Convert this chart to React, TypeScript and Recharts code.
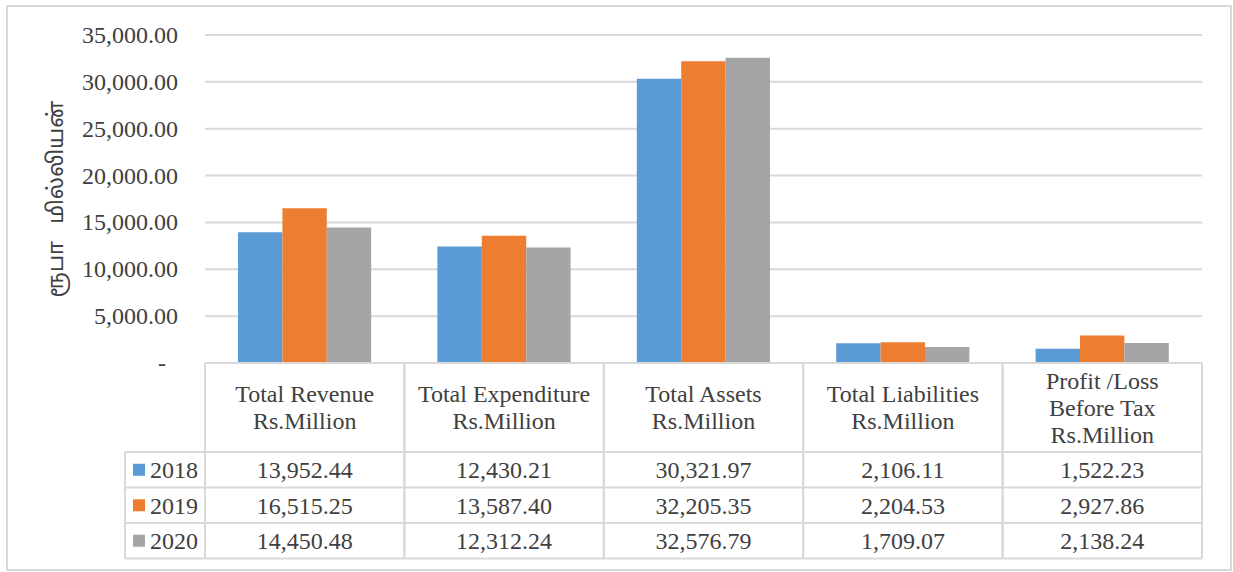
import { Bar, BarChart, CartesianGrid, XAxis, YAxis } from 'recharts';

const categories = ['Total Revenue', 'Total Expenditure', 'Total Assets', 'Total Liabilities', 'Profit /Loss'];
const headerLines = [
  ['Total Revenue', 'Rs.Million'],
  ['Total Expenditure', 'Rs.Million'],
  ['Total Assets', 'Rs.Million'],
  ['Total Liabilities', 'Rs.Million'],
  ['Profit /Loss', 'Before Tax', 'Rs.Million'],
];
const years = ['2018', '2019', '2020'];
const values2018 = [13952.44, 12430.21, 30321.97, 2106.11, 1522.23];
const values2019 = [16515.25, 13587.4, 32205.35, 2204.53, 2927.86];
const values2020 = [14450.48, 12312.24, 32576.79, 1709.07, 2138.24];
const yTicks = [0, 5000, 10000, 15000, 20000, 25000, 30000, 35000];
const yLabel = 'ரூபா   மில்லியன்';

const colors = ['#5B9BD5', '#ED7D31', '#A5A5A5'];
const seriesValues = [values2018, values2019, values2020];

const data = categories.map((name, i) => ({
  name,
  y2018: values2018[i],
  y2019: values2019[i],
  y2020: values2020[i],
}));

const W = 1233;
const H = 572;
const PLOT_LEFT = 205;
const PLOT_RIGHT = 1202;
const PLOT_TOP = 35;
const PLOT_BOTTOM = 363;
const COL_W = (PLOT_RIGHT - PLOT_LEFT) / categories.length;
const HEADER_BOTTOM = 452;
const ROW_H = 35.5;
const LEGEND_LEFT = 125;
const LINE = '#D9D9D9';
const TEXT = '#404040';
const FONT = '"Liberation Serif", "Times New Roman", serif';
const FS = 24;

const fmt = (v: number) =>
  v.toLocaleString('en-US', { minimumFractionDigits: 2, maximumFractionDigits: 2 });

const TableColumn = (props: any) => {
  const { x, index } = props;
  const left = x - COL_W / 2;
  const right = x + COL_W / 2;
  const lines = headerLines[index] || [];
  const rowYs = years.map((_, r) => HEADER_BOTTOM + r * ROW_H);
  const tableBottom = HEADER_BOTTOM + years.length * ROW_H;
  const hLines = [PLOT_BOTTOM, ...rowYs, tableBottom];
  return (
    <g>
      {hLines.map((y, k) => (
        <line key={'h' + k} x1={left} x2={right} y1={y} y2={y} stroke={LINE} strokeWidth={2} />
      ))}
      <line x1={left} x2={left} y1={PLOT_BOTTOM} y2={tableBottom} stroke={LINE} strokeWidth={2} />
      <line x1={right} x2={right} y1={PLOT_BOTTOM} y2={tableBottom} stroke={LINE} strokeWidth={2} />
      {lines.map((t, k) => (
        <text
          key={'t' + k}
          x={x}
          y={415.5 + (k - (lines.length - 1) / 2) * 27}
          textAnchor="middle"
          fontFamily={FONT}
          fontSize={FS}
          fill={TEXT}
        >
          {t}
        </text>
      ))}
      {seriesValues.map((vals, r) => (
        <text
          key={'v' + r}
          x={x}
          y={rowYs[r] + ROW_H / 2 + 8.5}
          textAnchor="middle"
          fontFamily={FONT}
          fontSize={FS}
          fill={TEXT}
        >
          {fmt(vals[index])}
        </text>
      ))}
      {index === 0 && (
        <g>
          {[...rowYs, tableBottom].map((y, k) => (
            <line key={'lh' + k} x1={LEGEND_LEFT} x2={left} y1={y} y2={y} stroke={LINE} strokeWidth={2} />
          ))}
          <line x1={LEGEND_LEFT} x2={LEGEND_LEFT} y1={HEADER_BOTTOM} y2={tableBottom} stroke={LINE} strokeWidth={2} />
          {years.map((yr, r) => (
            <g key={'lg' + r}>
              <rect x={133} y={rowYs[r] + ROW_H / 2 - 6} width={12} height={12} fill={colors[r]} />
              <text x={150} y={rowYs[r] + ROW_H / 2 + 8.5} fontFamily={FONT} fontSize={FS} fill={TEXT}>
                {yr}
              </text>
            </g>
          ))}
        </g>
      )}
    </g>
  );
};

const YTick = (props: any) => {
  const { x, y, payload } = props;
  const zero = payload.value === 0;
  return (
    <text
      x={zero ? x - 12 : x}
      y={y}
      textAnchor="end"
      dominantBaseline="central"
      fontFamily={FONT}
      fontSize={FS}
      fill={TEXT}
    >
      {zero ? '-' : fmt(payload.value)}
    </text>
  );
};

const YLabel = () => (
  <text
    x={57}
    y={(PLOT_TOP + PLOT_BOTTOM) / 2}
    transform={`rotate(-90 57 ${(PLOT_TOP + PLOT_BOTTOM) / 2})`}
    textAnchor="middle"
    dominantBaseline="central"
    fontFamily='"Noto Sans Tamil", "Latha", "Noto Sans", sans-serif'
    fontSize={22}
    fill={TEXT}
    style={{ whiteSpace: 'pre' }}
  >
    {yLabel}
  </text>
);

const App = () => {
  return (
    <div style={{ position: 'absolute', left: 0, top: 0, width: W, height: H, background: '#fff' }}>
      <svg width={W} height={H} style={{ position: 'absolute', left: 0, top: 0 }}>
        <rect x={7} y={6} width={1224} height={564} fill="#fff" stroke={LINE} strokeWidth={2} />
      </svg>
      <div style={{ position: 'absolute', left: 0, top: 0 }}>
        <BarChart
          width={W}
          height={H}
          data={data}
          barGap={0}
          barSize={44.4}
          margin={{ top: PLOT_TOP, right: W - PLOT_RIGHT, bottom: 0, left: PLOT_LEFT - 120 }}
        >
          <CartesianGrid vertical={false} stroke={LINE} strokeWidth={2} />
          <XAxis
            dataKey="name"
            height={H - PLOT_BOTTOM}
            axisLine={false}
            tickLine={false}
            interval={0}
            tick={(p: any) => <TableColumn {...p} />}
          />
          <YAxis
            width={120}
            domain={[0, 35000]}
            ticks={yTicks}
            axisLine={false}
            tickLine={false}
            tickSize={0}
            tickMargin={27}
            tick={(p: any) => <YTick {...p} />}
            label={<YLabel />}
          />
          {['y2018', 'y2019', 'y2020'].map((k, i) => (
            <Bar key={k} dataKey={k} fill={colors[i]} isAnimationActive={false} />
          ))}
        </BarChart>
      </div>
    </div>
  );
};

export default App;
